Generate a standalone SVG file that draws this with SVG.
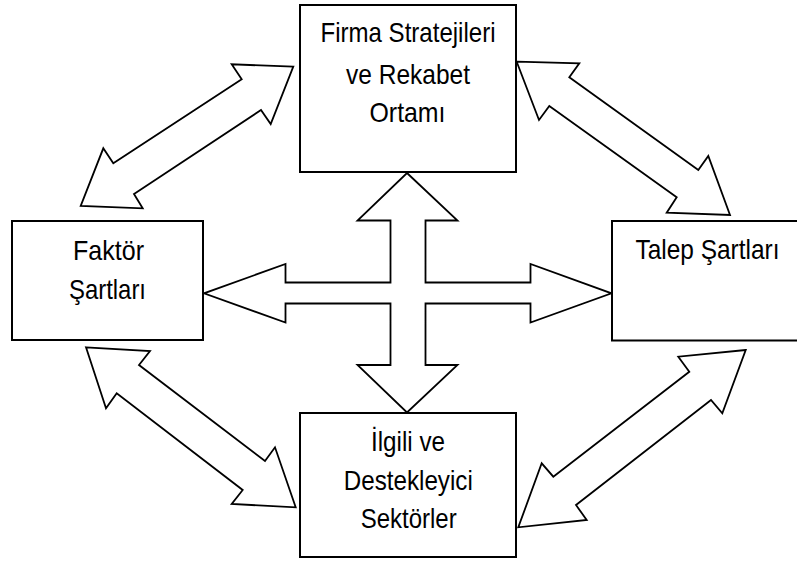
<svg xmlns="http://www.w3.org/2000/svg" width="797" height="562" viewBox="0 0 797 562">
<style>
.box{fill:#fff;stroke:#000;stroke-width:2}
.arr{fill:#fff;stroke:#000;stroke-width:1.8;stroke-linejoin:miter}
.t{font-family:"Liberation Sans",Arial,sans-serif;font-size:28px;fill:#000;text-anchor:middle}
</style>
<rect width="797" height="562" fill="#fff"/>
<g id="connectors">
<polygon class="arr" points="407,173 457.5,220.5 425.5,220.5 425.5,282.5 530.5,282.5 530.5,264 611.5,293.3 530.5,322.5 530.5,303.5 425.5,303.5 425.5,365 457.5,365 407,412.5 357.5,365 390.5,365 390.5,303.5 285.5,303.5 285.5,322.5 204,293.3 285.5,264 285.5,282.5 390.5,282.5 390.5,220.5 357.5,220.5"/>
<polygon class="arr" points="293.3,66.7 231.7,64.3 241.7,79.3 113.3,163.3 103.3,148.3 80.7,206 142.7,208.3 134,194 261,110 270.7,124"/>
<polygon class="arr" points="516.7,61.7 579.3,63.3 569.3,77.3 698.3,170 708.3,156 730,215 666.7,212.7 676.7,197.3 549.3,106 539,120"/>
<polygon class="arr" points="86,347.3 150,351 139,365 265,461 275,447.3 295.7,507.3 231.7,504 242.7,490 116.7,393.3 106,408.3"/>
<polygon class="arr" points="745.7,350 678.3,356.7 689.3,371.7 553.3,476.7 541.7,463.3 518.3,527.3 586.7,520 576,505 711,400 722.3,413.3"/>
</g>
<g id="firma">
<rect class="box" x="300" y="5" width="216" height="167"/>
<text class="t" x="408" y="42" textLength="175" lengthAdjust="spacingAndGlyphs">Firma Stratejileri</text>
<text class="t" x="408" y="83.5" textLength="124" lengthAdjust="spacingAndGlyphs">ve Rekabet</text>
<text class="t" x="407.5" y="122" textLength="76" lengthAdjust="spacingAndGlyphs">Ortamı</text>
</g>
<g id="faktor">
<rect class="box" x="12" y="221" width="191" height="119"/>
<text class="t" x="108.5" y="259.5" textLength="71" lengthAdjust="spacingAndGlyphs">Faktör</text>
<text class="t" x="107.5" y="298.5" textLength="77" lengthAdjust="spacingAndGlyphs">Şartları</text>
</g>
<g id="talep">
<rect x="612" y="221" width="185" height="119.5" fill="#fff"/>
<path class="box" fill="none" d="M797,221 H612 V340.5 H797"/>
<text class="t" x="707.5" y="258.5" textLength="144" lengthAdjust="spacingAndGlyphs">Talep Şartları</text>
</g>
<g id="ilgili">
<rect class="box" x="300" y="413" width="216" height="144"/>
<text class="t" x="408" y="451" textLength="74" lengthAdjust="spacingAndGlyphs">İlgili ve</text>
<text class="t" x="408.3" y="489.5" textLength="129" lengthAdjust="spacingAndGlyphs">Destekleyici</text>
<text class="t" x="408.7" y="528" textLength="96" lengthAdjust="spacingAndGlyphs">Sektörler</text>
</g>
</svg>
